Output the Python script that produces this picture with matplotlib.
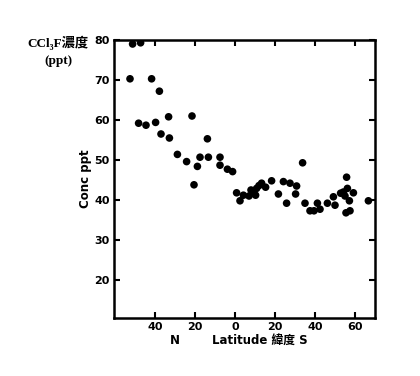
import matplotlib
matplotlib.use("Agg")
import matplotlib.pyplot as plt

# latitude: negative = North, positive = South
lat = [-51.2, -47.2, -52.5, -41.7, -37.8, -48.2, -44.5, -39.7, -33.2, -21.5,
       -37.0, -32.8, -13.8, -28.8, -24.2, -18.8, -17.5, -13.3, -7.5, -7.5,
       -3.8, -1.2, -20.5,
       0.8, 2.5, 4.2, 7.0, 8.0, 10.3, 10.8, 13.3, 15.3, 18.3, 21.7, 24.2,
       25.8, 27.5, 30.3, 30.8, 9.0, 12.0,
       33.8, 35.0, 37.5, 39.5, 41.2, 42.5, 46.2, 49.2, 50.0, 52.8, 55.8,
       56.2, 55.0, 57.2, 59.2, 54.2, 55.5, 57.5, 66.7]
conc = [79.0, 79.3, 70.3, 70.3, 67.2, 59.2, 58.7, 59.4, 60.8, 61.0,
        56.5, 55.5, 55.3, 51.4, 49.6, 48.4, 50.7, 50.7, 50.7, 48.7,
        47.7, 47.1, 43.8,
        41.8, 39.8, 41.2, 41.0, 42.5, 41.2, 42.9, 44.2, 43.2, 44.8, 41.5, 44.6,
        39.2, 44.2, 41.5, 43.5, 41.8, 43.6,
        49.3, 39.2, 37.3, 37.3, 39.2, 37.7, 39.2, 40.8, 38.7, 41.7, 45.7,
        42.9, 41.0, 39.8, 41.8, 42.0, 36.8, 37.3, 39.8]

xticks = [-40, -20, 0, 20, 40, 60]
xticklabels = ["40", "20", "0", "20", "40", "60"]
yticks = [20, 30, 40, 50, 60, 70, 80]

fig = plt.figure(figsize=(4.2, 3.76), dpi=100)
ax = fig.add_axes([114/420, 1-318/376, (375-114)/420, (318-40)/376])
ax.scatter(lat, conc, s=30, color="black", edgecolors="none", zorder=3)
ax.set_xlim(-60.5, 70)
ax.set_ylim(10.5, 80)
ax.set_xticks(xticks)
ax.set_xticklabels(xticklabels)
ax.set_yticks(yticks)
for s in ax.spines.values():
    s.set_linewidth(1.8)
ax.tick_params(direction="in", length=4, width=1.5, top=True, right=True,
               labelsize=8, pad=3)
for lab in ax.get_xticklabels() + ax.get_yticklabels():
    lab.set_fontweight("bold")

ax.set_ylabel("Conc ppt", fontsize=8.5, fontweight="bold", labelpad=2)

cjk = ["DejaVu Sans", "Noto Sans CJK TC"]
fig.text(175/420, 1-340/376, "N", fontsize=8.5, fontweight="bold",
         ha="center", va="center")
fig.text(260/420, 1-340/376, "Latitude 緯度 S", fontsize=8.5,
         fontweight="bold", ha="center", va="center", family=cjk)

serif = ["Liberation Serif", "Noto Sans CJK TC"]
fig.text(27/420, 1-43/376, "CCl₃F濃度", fontsize=9.5, fontweight="bold",
         ha="left", va="center", family=serif)
fig.text(44/420, 1-61/376, "(ppt)", fontsize=9.5, fontweight="bold",
         ha="left", va="center", family=serif)

fig.savefig("out.png", dpi=100)
